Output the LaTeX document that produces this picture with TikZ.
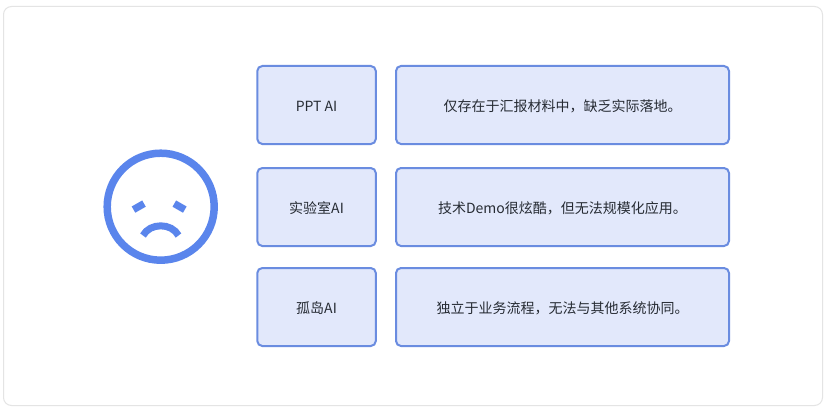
\documentclass[tikz,border=0pt]{standalone}
\usepackage{fontspec}
\setmainfont{Noto Sans CJK SC}
\definecolor{accent}{HTML}{5A85EC}
\definecolor{boxfill}{HTML}{E2E8FB}
\definecolor{boxline}{HTML}{6A8CE0}
\definecolor{cardline}{HTML}{E4E4E4}
\definecolor{ink}{HTML}{262B33}
\newcommand{\tiletext}[1]{\raisebox{-6.6pt}[0pt][0pt]{#1}}
\tikzset{
  card/.style={draw=cardline,line width=1pt,fill=white,rounded corners=8pt},
  tile/.style={draw=boxline,line width=2pt,fill=boxfill,rounded corners=5pt,minimum height=78pt,inner sep=0pt,outer sep=0pt,anchor=north west,text=ink,font=\fontsize{14pt}{16pt}\selectfont},
  namebox/.style={tile,minimum width=118.5pt},
  descbox/.style={tile,minimum width=333pt},
  face/.style={draw=accent,line width=7.5pt},
  feature/.style={draw=accent,line width=7.2pt},
  mouth/.style={draw=accent,line width=7pt}
}
\begin{document}
\begin{tikzpicture}[x=1pt,y=-1pt]
\useasboundingbox (0,0) rectangle (830,412);
\fill[white] (0,0) rectangle (830,412);
\draw[card] (3.5,6.5) rectangle (822.5,405.5);
\draw[face] (160.7,206.7) circle[radius=53.5];
\draw[feature] (133.5,209.6) -- (144,203.6);
\draw[feature] (174.3,203.6) -- (184.8,209.6);
\draw[mouth] (143,235.5) .. controls (150,222.6) and (171.5,222.6) .. (178.5,235.5);
\node[namebox] (n1) at (257.3,66) {\tiletext{PPT AI}};
\node[descbox] (d1) at (396,66) {\tiletext{仅存在于汇报材料中，缺乏实际落地。}};
\node[namebox] (n2) at (257.3,168) {\tiletext{实验室AI}};
\node[descbox] (d2) at (396,168) {\tiletext{技术Demo很炫酷，但无法规模化应用。}};
\node[namebox] (n3) at (257.3,268) {\tiletext{孤岛AI}};
\node[descbox] (d3) at (396,268) {\tiletext{独立于业务流程，无法与其他系统协同。}};
\end{tikzpicture}
\end{document}
